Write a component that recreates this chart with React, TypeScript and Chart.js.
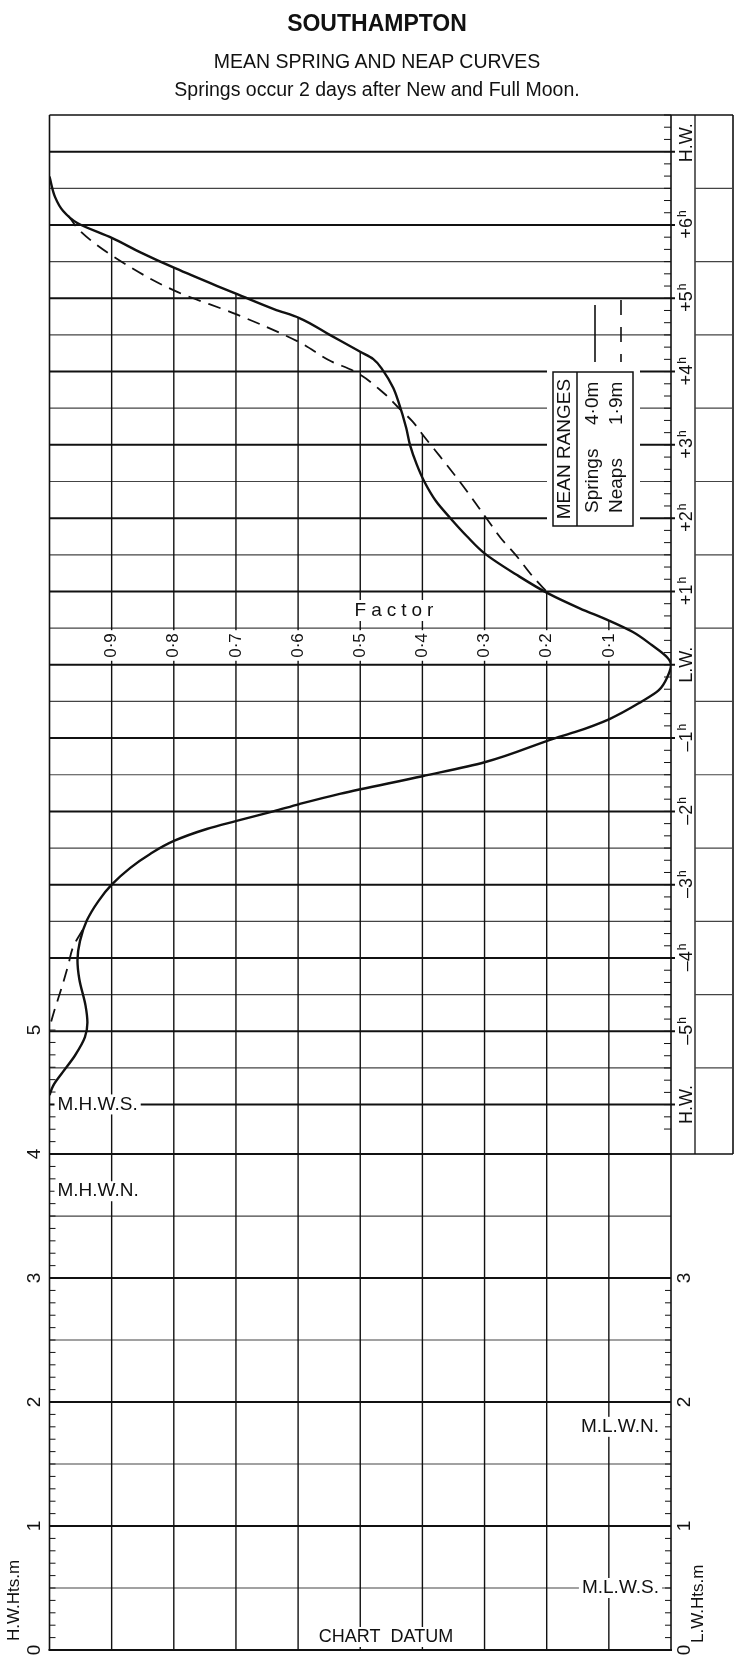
import { useEffect, useRef } from "react"
import { Chart, registerables } from "chart.js"

Chart.register(...registerables)

const FONT = '"Liberation Sans", Arial, Helvetica, sans-serif'

// spring curve: hours from L.W. and factor
const springHours = [
  6.66, 6.38, 6.19, 6.03, 5.82, 5.62, 5.41, 5.17, 5.06, 4.85, 4.73, 4.5, 4.27, 4.17, 4.01, 3.78, 3.6, 3.23,
  3.0, 2.73, 2.5, 2.23, 2.0, 1.75, 1.52, 1.22, 0.97, 0.77, 0.6, 0.45, 0.27, 0.1, 0, -0.15, -0.35, -0.5,
  -0.74, -0.92, -1.0, -1.33, -1.52, -1.76, -1.9, -2.0, -2.13, -2.24, -2.4, -2.58, -2.77, -3.0, -3.22,
  -3.49, -3.77, -4.03, -4.29, -4.65, -4.88, -5.08, -5.33, -5.56, -5.74, -5.87,
]
const springFactor = [
  1.0, 0.991, 0.978, 0.956, 0.899, 0.852, 0.798, 0.731, 0.699, 0.638, 0.598, 0.549, 0.5, 0.479, 0.463, 0.447,
  0.439, 0.426, 0.42, 0.409, 0.397, 0.378, 0.355, 0.328, 0.3, 0.247, 0.197, 0.147, 0.099, 0.062, 0.031,
  0.006, 0, 0.005, 0.02, 0.047, 0.099, 0.155, 0.186, 0.3, 0.4, 0.533, 0.598, 0.64, 0.699, 0.747, 0.799,
  0.838, 0.87, 0.9, 0.921, 0.94, 0.951, 0.955, 0.952, 0.942, 0.939, 0.943, 0.959, 0.979, 0.994, 1.0,
]

// neap curve, rising part after L.W. and falling part before L.W.
const neapRiseHours = [6.13, 5.92, 5.58, 5.1, 4.78, 4.4, 4.14, 4.01, 3.69, 3.52, 3.32, 3.11, 2.91, 2.5, 2.0, 1.73, 1.5, 1.22, 0.97]
const neapRiseFactor = [0.97, 0.951, 0.899, 0.798, 0.699, 0.598, 0.547, 0.511, 0.46, 0.44, 0.416, 0.397, 0.378, 0.34, 0.297, 0.274, 0.25, 0.224, 0.197]
const neapFallHours = [-3.62, -3.85, -4.1, -4.42, -4.74, -4.95]
const neapFallFactor = [0.947, 0.962, 0.97, 0.981, 0.993, 1.0]

const hourMarks = [7, 6, 5, 4, 3, 2, 1, 0, -1, -2, -3, -4, -5, -6]
const hourLabels = ["H.W.", "+6", "+5", "+4", "+3", "+2", "+1", "L.W.", "–1", "–2", "–3", "–4", "–5", "H.W."]

const factorTicks = [0.9, 0.8, 0.7, 0.6, 0.5, 0.4, 0.3, 0.2, 0.1]
const factorLabels = ["0·9", "0·8", "0·7", "0·6", "0·5", "0·4", "0·3", "0·2", "0·1"]

const hwHeights = [0, 1, 2, 3, 4, 5]
const lwHeights = [0, 1, 2, 3]

const levelNames = ["M.H.W.S.", "M.H.W.N.", "M.L.W.N.", "M.L.W.S."]
const levelHeights = [4.4, 3.7, 1.8, 0.5]

const rangeNames = ["Springs", "Neaps"]
const rangeValues = ["4·0m", "1·9m"]

// scale ranges (time axis and height axis share the same plot)
const TIME_MAX = 7.5
const TIME_MIN = -13.44
const HEIGHT_MAX = 12.38

const toPoints = (hours: number[], factors: number[]) => hours.map((t, i) => ({ x: factors[i], y: t }))

// latest time after L.W. where a curve reaches a factor
function riseCrossing(hours: number[], factors: number[], v: number) {
  let best = -Infinity
  for (let i = 0; i < hours.length - 1; i++) {
    if (hours[i] < 0 || hours[i + 1] < 0) continue
    const a = factors[i] - v
    const b = factors[i + 1] - v
    if (a === 0) best = Math.max(best, hours[i])
    else if (a * b < 0) best = Math.max(best, hours[i] + ((hours[i + 1] - hours[i]) * a) / (a - b))
  }
  return best
}

function upText(ctx: CanvasRenderingContext2D, text: string, x: number, y: number, align: CanvasTextAlign, font: string, bg = false) {
  ctx.save()
  ctx.translate(x, y)
  ctx.rotate(-Math.PI / 2)
  ctx.font = font
  ctx.textAlign = align
  ctx.textBaseline = "middle"
  if (bg) {
    const w = ctx.measureText(text).width
    const x0 = align === "center" ? -w / 2 : align === "right" ? -w : 0
    ctx.fillStyle = "#fff"
    ctx.fillRect(x0 - 3, -9, w + 6, 18)
  }
  ctx.fillStyle = "#111"
  ctx.fillText(text, 0, 0)
  ctx.restore()
}

function flatText(ctx: CanvasRenderingContext2D, text: string, x: number, y: number, align: CanvasTextAlign, font: string) {
  ctx.font = font
  const w = ctx.measureText(text).width
  const x0 = align === "center" ? x - w / 2 : align === "right" ? x - w : x
  ctx.fillStyle = "#fff"
  ctx.fillRect(x0 - 3, y - 10, w + 6, 20)
  ctx.fillStyle = "#111"
  ctx.textAlign = align
  ctx.textBaseline = "middle"
  ctx.fillText(text, x, y)
}

const tidePlugin = {
  id: "tideSheet",
  beforeDatasetsDraw(chart: any) {
    const { ctx, chartArea: a, scales } = chart
    const X = (f: number) => scales.x.getPixelForValue(f)
    const T = (t: number) => scales.y.getPixelForValue(t)
    const H = (h: number) => scales.yH.getPixelForValue(h)
    const line = (x1: number, y1: number, x2: number, y2: number, w = 1, c = "#111") => {
      ctx.beginPath()
      ctx.lineWidth = w
      ctx.strokeStyle = c
      ctx.moveTo(x1, y1)
      ctx.lineTo(x2, y2)
      ctx.stroke()
    }
    ctx.save()
    ctx.fillStyle = "#fff"
    ctx.fillRect(0, 0, chart.width, chart.height)

    // time grid, every half hour
    for (let t = 7; t >= -6; t -= 0.5) {
      const bold = Number.isInteger(t)
      line(a.left, T(t), bold ? a.right + 4 : a.right, T(t), bold ? 2 : 1.2, bold ? "#111" : "#444")
    }
    // height grid
    for (let h = 0.5; h <= 4; h += 0.5) {
      const bold = Number.isInteger(h)
      line(a.left, H(h), a.right, H(h), bold ? 2 : 1.2, bold ? "#111" : "#444")
    }
    // factor lines, hanging from the upper curve
    factorTicks.forEach((f) => {
      const top = Math.max(riseCrossing(springHours, springFactor, f), riseCrossing(neapRiseHours, neapRiseFactor, f))
      line(X(f), T(top), X(f), a.bottom, 1.4)
    })

    // hour label columns on the right
    const c1 = a.right + 24
    const c2 = a.right + 62
    const boxBottom = H(4)
    line(a.left, a.top, c2, a.top, 1.6)
    line(c1, a.top, c1, boxBottom, 1.3)
    line(c2, a.top, c2, boxBottom, 1.6)
    line(a.right, boxBottom, c2, boxBottom, 1.6)
    for (let t = 6.5; t >= -5.5; t -= 1) line(c1, T(t), c2, T(t), 1.2, "#444")

    // frame
    line(a.left, a.top, a.left, a.bottom, 1.6)
    line(a.right, a.top, a.right, a.bottom, 1.6)
    line(a.left - 1, a.bottom, a.right + 1, a.bottom, 2.2)

    // ticks: ten minutes on the time axis, 0.1 m on the height axes
    for (let i = -38; i <= 45; i++) line(a.right - 7, T(i / 6), a.right, T(i / 6), 1)
    for (let i = 0; i <= 50; i++) line(a.left, H(i / 10), a.left + 6, H(i / 10), 1)
    for (let i = 0; i <= 30; i++) line(a.right - 6, H(i / 10), a.right, H(i / 10), 1)

    // clear the space round the legend box
    ctx.fillStyle = "#fff"
    ctx.fillRect(a.right - 124, 366, 93, 165)
    ctx.restore()
  },
  afterDatasetsDraw(chart: any) {
    const { ctx, chartArea: a, scales } = chart
    const X = (f: number) => scales.x.getPixelForValue(f)
    const T = (t: number) => scales.y.getPixelForValue(t)
    const H = (h: number) => scales.yH.getPixelForValue(h)
    ctx.save()

    // factor tick labels above L.W.
    factorTicks.forEach((f, i) => upText(ctx, factorLabels[i], X(f), T(0) - 7, "left", `17px ${FONT}`, true))

    // "Factor" title, spaced out
    ctx.font = `19px ${FONT}`
    const word = "Factor"
    const gap = 5
    const widths = word.split("").map((ch) => ctx.measureText(ch).width)
    const total = widths.reduce((s, w) => s + w, 0) + gap * (word.length - 1)
    let fx = 394 - total / 2
    ctx.fillStyle = "#fff"
    ctx.fillRect(fx - 3, 600, total + 6, 21)
    ctx.fillStyle = "#111"
    ctx.textAlign = "left"
    ctx.textBaseline = "middle"
    word.split("").forEach((ch, i) => {
      ctx.fillText(ch, fx, 611)
      fx += widths[i] + gap
    })

    // hour labels (the top one sits a little above its line, clear of the frame)
    hourMarks.forEach((t, i) => {
      const label = hourLabels[i]
      const x = a.right + 16
      const y = T(t) - (i === 0 ? 9 : 0)
      if (label.includes(".")) {
        upText(ctx, label, x, y, "center", `18px ${FONT}`)
        return
      }
      ctx.save()
      ctx.translate(x, y)
      ctx.rotate(-Math.PI / 2)
      ctx.textBaseline = "middle"
      ctx.textAlign = "left"
      ctx.font = `18px ${FONT}`
      const w1 = ctx.measureText(label).width
      ctx.font = `12px ${FONT}`
      const w2 = ctx.measureText("h").width
      const start = -(w1 + w2) / 2
      ctx.fillStyle = "#111"
      ctx.font = `18px ${FONT}`
      ctx.fillText(label, start, 0)
      ctx.font = `12px ${FONT}`
      ctx.fillText("h", start + w1 + 1, -4)
      ctx.restore()
    })

    // height labels
    hwHeights.forEach((h) => upText(ctx, String(h), a.left - 15, H(h), "center", `19px ${FONT}`))
    lwHeights.forEach((h) => upText(ctx, String(h), a.right + 14, H(h), "center", `19px ${FONT}`))
    upText(ctx, "H.W.Hts.m", 14, a.bottom - 9, "left", `17px ${FONT}`)
    upText(ctx, "L.W.Hts.m", a.right + 27, a.bottom - 7, "left", `17px ${FONT}`)

    // tide levels
    levelNames.forEach((name, i) => {
      const high = name.startsWith("M.H")
      flatText(ctx, name, high ? a.left + 8 : a.right - 12, H(levelHeights[i]), high ? "left" : "right", `19px ${FONT}`)
    })
    flatText(ctx, "CHART  DATUM", 386, a.bottom - 13, "center", `18px ${FONT}`)

    // legend: line samples
    const sx = a.right - 76
    ctx.strokeStyle = "#111"
    ctx.lineWidth = 1.6
    ctx.beginPath()
    ctx.moveTo(sx, 305)
    ctx.lineTo(sx, 362)
    ctx.stroke()
    ctx.setLineDash([15, 12])
    ctx.beginPath()
    ctx.moveTo(sx + 26, 300)
    ctx.lineTo(sx + 26, 362)
    ctx.stroke()
    ctx.setLineDash([])

    // legend: mean ranges box
    const bx = a.right - 118
    const by = 372
    const bw = 80
    const bh = 154
    ctx.lineWidth = 1.5
    ctx.strokeRect(bx, by, bw, bh)
    ctx.beginPath()
    ctx.moveTo(bx + 24, by)
    ctx.lineTo(bx + 24, by + bh)
    ctx.stroke()
    upText(ctx, "MEAN RANGES", bx + 12, by + bh / 2, "center", `19px ${FONT}`)
    rangeNames.forEach((name, i) => {
      const x = bx + 40 + i * 24
      upText(ctx, name, x, by + bh - 13, "left", `19px ${FONT}`)
      upText(ctx, rangeValues[i], x, by + 53, "left", `19px ${FONT}`)
    })
    ctx.restore()
  },
}

const curveStyle = {
  borderColor: "#111",
  pointRadius: 0,
  fill: false,
  cubicInterpolationMode: "monotone" as const,
}

function TideCurves() {
  const canvasRef = useRef<HTMLCanvasElement>(null)
  const chartRef = useRef<Chart | null>(null)

  useEffect(() => {
    if (!canvasRef.current) return
    if (chartRef.current) chartRef.current.destroy()

    chartRef.current = new Chart(canvasRef.current, {
      type: "line",
      data: {
        datasets: [
          { label: "Springs", data: toPoints(springHours, springFactor), borderWidth: 2.4, ...curveStyle },
          { label: "Neaps", data: toPoints(neapRiseHours, neapRiseFactor), borderWidth: 1.8, borderDash: [13, 8], ...curveStyle },
          { label: "Neaps (before L.W.)", data: toPoints(neapFallHours, neapFallFactor), borderWidth: 1.8, borderDash: [13, 8], ...curveStyle },
        ],
      },
      options: {
        indexAxis: "y",
        responsive: false,
        animation: false,
        devicePixelRatio: 1,
        layout: { padding: { left: 49.5, right: 79, top: 115, bottom: 23 } },
        scales: {
          x: { type: "linear", min: 0, max: 1, reverse: true, display: false },
          y: { type: "linear", min: TIME_MIN, max: TIME_MAX, display: false },
          yH: { type: "linear", axis: "y", min: 0, max: HEIGHT_MAX, display: false },
        },
        plugins: {
          legend: { display: false },
          tooltip: { enabled: false },
        },
      },
      plugins: [tidePlugin],
    })

    return () => {
      if (chartRef.current) {
        chartRef.current.destroy()
        chartRef.current = null
      }
    }
  }, [])

  return <canvas ref={canvasRef} width={750} height={1673} style={{ position: "absolute", left: 0, top: 0, width: 750, height: 1673 }} />
}

const heading = (top: number, size: number, weight: number): React.CSSProperties => ({
  position: "absolute",
  left: 4,
  width: 746,
  top,
  textAlign: "center",
  fontSize: size,
  fontWeight: weight,
  lineHeight: 1,
  color: "#111",
})

export default function App() {
  return (
    <div style={{ position: "absolute", left: 0, top: 0, width: 750, height: 1673, background: "#fff", fontFamily: FONT, overflow: "hidden" }}>
      <TideCurves />
      <div style={heading(12, 23, 700)}>SOUTHAMPTON</div>
      <div style={heading(52, 19.5, 400)}>MEAN SPRING AND NEAP CURVES</div>
      <div style={heading(80, 19.5, 400)}>Springs occur 2 days after New and Full Moon.</div>
    </div>
  )
}
